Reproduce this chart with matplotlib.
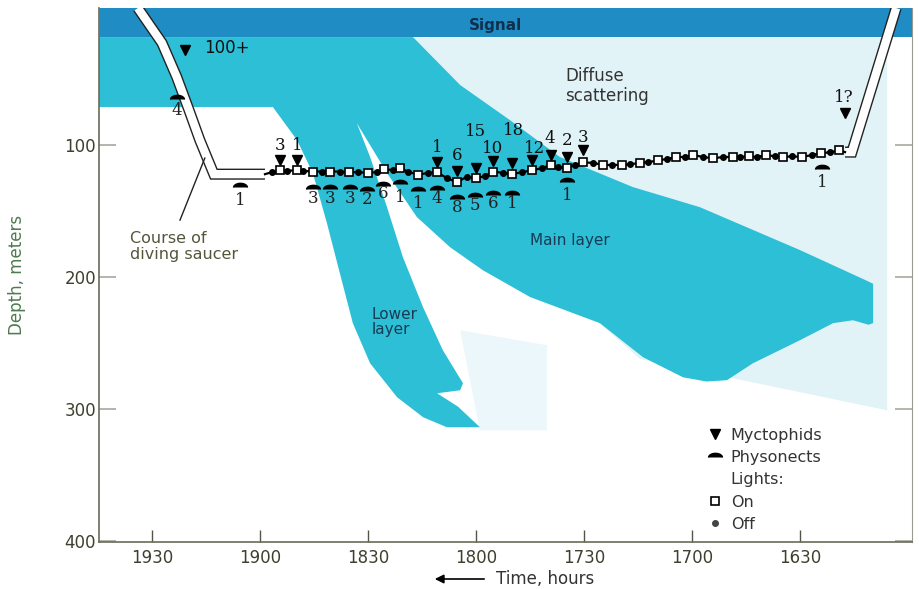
import numpy as np
import matplotlib
matplotlib.use("Agg")
import matplotlib.pyplot as plt
from matplotlib.lines import Line2D

# time in minutes after midnight (1170 = 19:30), depth in meters
time_ticks = [1170, 1140, 1110, 1080, 1050, 1020, 990]
time_labels = ["1930", "1900", "1830", "1800", "1730", "1700", "1630"]
depth_ticks = [100, 200, 300, 400]
depth_labels = ["100", "200", "300", "400"]

signal_top, signal_bottom = -3.8, 18.5

# outline of the scattering layers (upper band + lower layer + main layer)
layer_t = [1184.7, 1097.5, 1084.4, 1070.6, 1056.7, 1036.4, 1017.8, 990.0, 972.0, 969.7,
           969.7, 971.0, 975.3, 980.8, 990.0, 1003.1, 1010.3, 1016.0, 1022.5, 1033.6,
           1045.6, 1065.0, 1078.1, 1087.2, 1096.4, 1104.7, 1113.1,
           1109.4, 1104.7, 1100.3, 1094.7, 1089.2, 1083.6, 1084.4, 1090.8, 1085.0,
           1078.9, 1088.1, 1094.7, 1101.9, 1109.4, 1114.2, 1117.8, 1121.4, 1125.3,
           1129.7, 1136.4, 1184.7]
layer_d = [18.2, 18.2, 54.5, 81.0, 109.0, 131.8, 147.0, 179.5, 202.0, 205.0,
           234.8, 236.0, 232.6, 234.8, 247.7, 265.2, 278.0, 279.0, 275.8, 260.6,
           234.8, 215.0, 194.7, 177.3, 154.5, 121.2, 83.3,
           109.0, 147.0, 184.8, 222.7, 255.3, 280.3, 285.6, 287.9, 298.0,
           313.6, 313.6, 306.0, 290.9, 265.2, 234.8, 197.0, 159.0, 121.2,
           96.2, 71.2, 71.2]

# faint diffuse scattering region
diffuse_t = [1097.5, 965.8, 965.8, 1034.4, 1060.0, 1085.0]
diffuse_d = [18.5, 18.5, 300.8, 262.0, 200.0, 60.0]
faint_t = [1084.4, 1060.3, 1060.3, 1078.9]
faint_d = [240.2, 251.5, 315.9, 315.9]

# course of the diving saucer
saucer_down_t = [1173.9, 1167.2, 1163.1, 1159.7, 1156.7, 1152.8, 1138.6]
saucer_down_d = [-3.8, 22.7, 48.5, 73.5, 96.2, 122.0, 122.0]
saucer_up_t = [977.5, 975.6, 963.3]
saucer_up_d = [105.3, 105.3, -3.8]
pointer_t = [1162.2, 1155.3]
pointer_d = [156.8, 109.8]

# stations along the horizontal run (True = lights on)
chain_t = [1136.7, 1134.4, 1132.5, 1129.7, 1128.1, 1125.3, 1122.8, 1120.6, 1117.8, 1115.3,
           1112.8, 1110.0, 1107.5, 1105.6, 1103.1, 1101.1, 1098.9, 1096.1, 1093.3, 1090.8,
           1088.1, 1085.3, 1082.5, 1080.0, 1077.5, 1075.3, 1072.5, 1070.0, 1067.2, 1064.4,
           1061.7, 1059.2, 1057.2, 1054.7, 1052.5, 1050.3, 1047.5, 1044.7, 1042.2, 1039.4,
           1037.2, 1034.4, 1032.2, 1029.4, 1026.9, 1024.4, 1021.9, 1019.7, 1016.9, 1014.2,
           1011.4, 1008.6, 1006.7, 1004.2, 1002.0, 999.4, 996.9, 994.7, 992.2, 989.4,
           986.7, 984.2, 981.7, 979.2]
chain_d = [120.5, 119.0, 119.5, 119.0, 119.5, 120.0, 120.0, 120.0, 120.0, 120.5,
           120.5, 121.0, 120.5, 118.0, 119.0, 117.5, 120.0, 122.5, 121.0, 120.5,
           125.0, 128.0, 124.0, 125.0, 123.5, 120.0, 121.0, 122.0, 120.5, 119.0,
           117.5, 115.0, 116.5, 117.5, 115.0, 113.0, 113.5, 115.0, 115.0, 115.0,
           114.5, 113.5, 113.0, 111.5, 110.5, 109.0, 109.0, 107.5, 109.0, 110.0,
           109.0, 109.0, 109.0, 108.5, 109.0, 107.5, 108.5, 109.0, 108.5, 109.0,
           107.5, 106.0, 105.5, 104.0]
chain_on = [False, True] * 32

# myctophids seen
myc_t = [1160.8, 1134.4, 1129.7, 1090.8, 1085.3, 1080.0, 1075.3, 1070.0, 1064.4, 1059.2,
         1054.7, 1050.3, 977.5]
myc_d = [28.0, 111.4, 111.4, 112.9, 119.7, 117.4, 112.1, 113.6, 111.4, 107.6,
         109.0, 103.8, 75.8]
myc_labels = ["100+", "3", "1", "1", "6", "15", "10", "18", "12", "4", "2", "3", "1?"]
myc_label_t = [1155.5, 1134.4, 1129.7, 1090.8, 1085.3, 1080.0, 1075.3, 1069.5, 1063.8, 1059.6,
               1054.7, 1050.3, 977.8]
myc_label_d = [26.5, 100.0, 100.0, 101.5, 107.6, 90.0, 102.3, 88.6, 102.3, 94.7,
               96.2, 94.0, 63.6]

# physonects seen
phy_t = [1163.0, 1145.6, 1125.3, 1120.6, 1115.0, 1110.3, 1105.8, 1101.1, 1096.1, 1090.8,
         1085.3, 1080.3, 1075.3, 1070.0, 1054.7, 983.9]
phy_d = [65.0, 131.5, 133.0, 133.0, 133.0, 134.5, 131.0, 129.5, 134.5, 134.0,
         141.0, 139.5, 138.0, 138.0, 128.0, 118.0]
phy_labels = ["4", "1", "3", "3", "3", "2", "6", "1", "1", "4",
              "8", "5", "6", "1", "1", "1"]
phy_label_d = [73.5, 141.7, 140.5, 140.5, 140.5, 141.5, 137.0, 139.4, 144.0, 140.5,
               147.0, 145.5, 144.5, 144.5, 137.9, 128.0]

cyan = "#2cbfd6"
dark_blue = "#1f8cc4"
light = "#e2f3f8"
fainter = "#ebf7fa"
olive = "#3f3f2e"

chain_t = np.array(chain_t)
chain_d = np.array(chain_d)
chain_on = np.array(chain_on)

ang = np.linspace(0, np.pi, 30)
dome = np.column_stack([np.cos(ang), 0.6 * np.sin(ang)])

fig = plt.figure(figsize=(9.19, 5.89), dpi=100)
ax = fig.add_axes([0.1077, 0.0798, 0.8847, 0.9066])
ax.set_xlim(1184.7, 958.9)
ax.set_ylim(400.5, -3.8)

ax.fill(diffuse_t, diffuse_d, color=light, lw=0, zorder=1)
ax.fill(faint_t, faint_d, color=fainter, lw=0, zorder=1)
ax.fill(layer_t, layer_d, color=cyan, lw=0, zorder=2)
ax.axhspan(signal_top, signal_bottom, color=dark_blue, lw=0, zorder=3)

for st, sd in [(saucer_down_t, saucer_down_d), (saucer_up_t, saucer_up_d)]:
    ax.plot(st, sd, color="#222222", lw=8, solid_joinstyle="miter", solid_capstyle="butt", zorder=4)
    ax.plot(st, sd, color="white", lw=6, solid_joinstyle="miter", solid_capstyle="butt", zorder=4)
ax.plot(pointer_t, pointer_d, color="#222222", lw=1, zorder=4)

ax.plot([saucer_down_t[-1]] + list(chain_t) + [saucer_up_t[0]],
        [saucer_down_d[-1]] + list(chain_d) + [saucer_up_d[0]], color="k", lw=1.6, zorder=5)
ax.plot(chain_t[chain_on], chain_d[chain_on], "s", ms=5.5, mfc="white", mec="k", mew=1.2,
        ls="none", zorder=6)
ax.plot(chain_t[~chain_on], chain_d[~chain_on], "o", ms=4, color="k", ls="none", zorder=6)

ax.plot(myc_t, myc_d, "v", color="k", ms=7, ls="none", zorder=7)
for t, d, lab in zip(myc_label_t, myc_label_d, myc_labels):
    ha = "left" if lab == "100+" else "center"
    fam = "DejaVu Sans" if lab == "100+" else "DejaVu Serif"
    ax.text(t, d, lab, ha=ha, va="center", fontsize=12, family=fam, color="#111111", zorder=8)

ax.plot(phy_t, phy_d, marker=dome, color="k", ms=10, ls="none", zorder=7)
for t, d, lab in zip(phy_t, phy_label_d, phy_labels):
    ax.text(t, d, lab, ha="center", va="center", fontsize=12, family="DejaVu Serif",
            color="#222222", zorder=8)

ax.text(1074.7, 9.1, "Signal", ha="center", va="center", fontsize=11, fontweight="bold",
        color="#10304e", zorder=8)
ax.text(1055.3, 55.3, "Diffuse\nscattering", ha="left", va="center", fontsize=12,
        color="#333333", linespacing=1.1, zorder=8)
ax.text(1065.0, 172.0, "Main layer", ha="left", va="center", fontsize=11,
        color="#183a55", zorder=8)
ax.text(1108.9, 234.0, "Lower\nlayer", ha="left", va="center", fontsize=11,
        color="#183a55", linespacing=1.0, zorder=8)
ax.text(1176.1, 176.5, "Course of\ndiving saucer", ha="left", va="center", fontsize=11.5,
        color="#55553c", linespacing=1.1, zorder=8)

ax.set_xticks(time_ticks, time_labels)
ax.set_yticks(depth_ticks, depth_labels)
ax.tick_params(axis="x", direction="in", length=9, width=1, top=True, pad=5,
               labelsize=12, color="#555545", labelcolor=olive)
ax.tick_params(axis="y", direction="in", length=12, width=1.2, right=True, pad=2,
               labelsize=12, color="#a8a8a0", labelcolor=olive)
ax.spines["top"].set_visible(False)
for s in ["left", "bottom"]:
    ax.spines[s].set_color("#6b6b5a")
    ax.spines[s].set_linewidth(1.2)
ax.spines["right"].set_color("#9a9a90")
ax.spines["right"].set_linewidth(0.8)

ax.set_ylabel("Depth, meters", fontsize=12, color="#4f7a50")
ax.yaxis.set_label_coords(-0.0898, 0.5)
ax.set_xlabel("Time, hours", fontsize=12, color="#333333")
ax.xaxis.label.set_va("center")
ax.xaxis.set_label_coords(0.5486, -0.0693)
ax.annotate("", xy=(0.4096, -0.0693), xytext=(0.4772, -0.0693), xycoords="axes fraction",
            annotation_clip=False,
            arrowprops=dict(arrowstyle="-|>", color="k", lw=1.2, mutation_scale=13))

handles = [
    Line2D([], [], marker="v", color="k", ms=7, ls="none"),
    Line2D([], [], marker=dome, color="k", ms=10, ls="none"),
    Line2D([], [], ls="none"),
    Line2D([], [], marker="s", ms=5.5, mfc="white", mec="k", mew=1.2, ls="none"),
    Line2D([], [], marker="o", ms=4, color="#444444", ls="none"),
]
labels = ["Myctophids", "Physonects", "Lights:", "On", "Off"]
leg = ax.legend(handles, labels, loc="upper left", bbox_to_anchor=(0.769, 0.2733),
                bbox_transform=fig.transFigure, frameon=False, fontsize=11.5,
                handlelength=1.0, handletextpad=0.5, borderpad=0, borderaxespad=0,
                labelspacing=0.45)
for txt in leg.get_texts():
    txt.set_color("#333333")

fig.savefig("out.png", dpi=100)
